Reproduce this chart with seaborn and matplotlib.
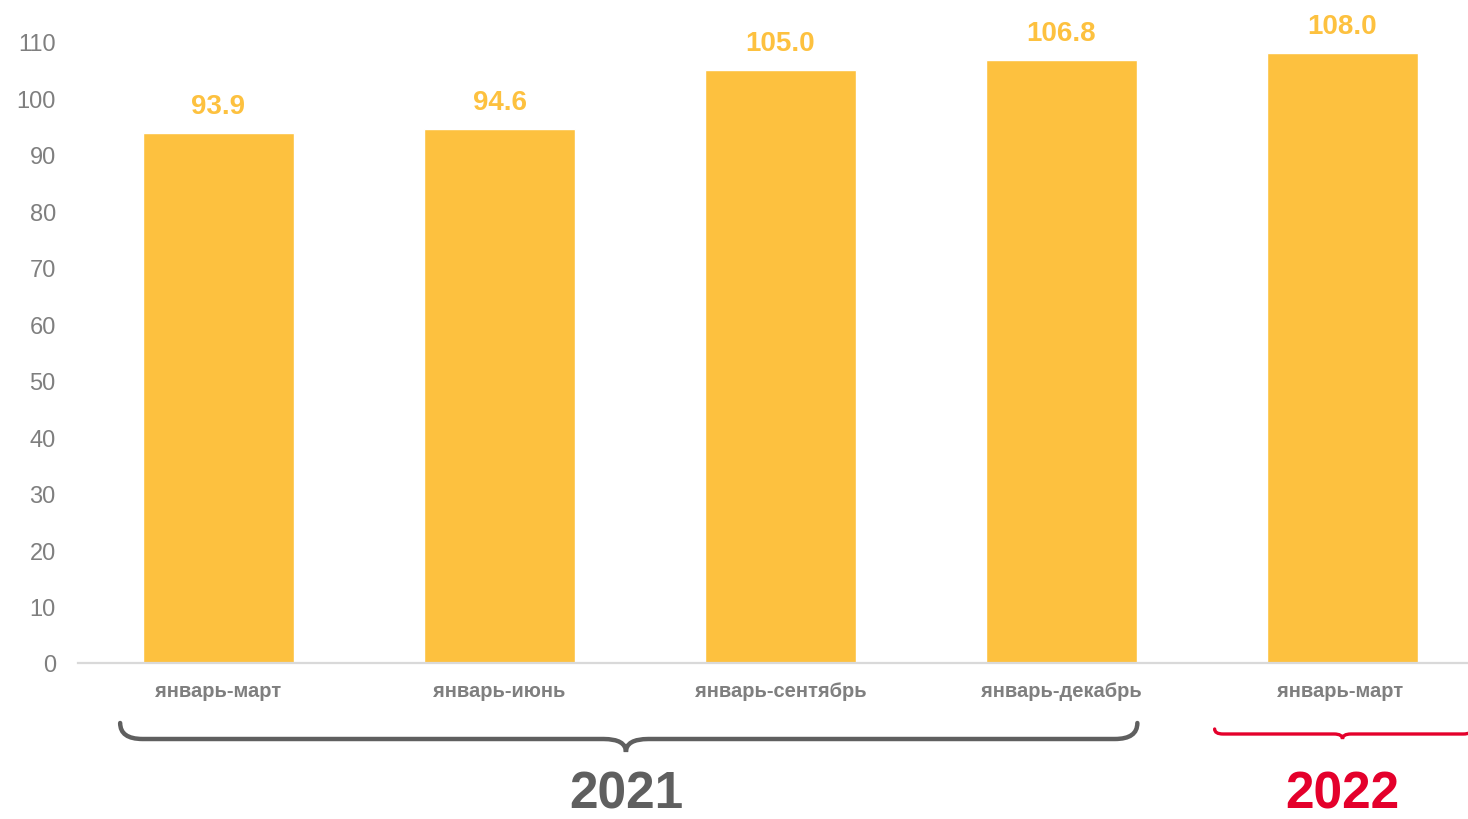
import matplotlib
matplotlib.use("Agg")
import matplotlib.pyplot as plt
import matplotlib.transforms as mtransforms
from matplotlib.path import Path
from matplotlib.patches import PathPatch
import pandas as pd
import seaborn as sns

# data
periods = ["январь-март", "январь-июнь", "январь-сентябрь", "январь-декабрь", "январь-март "]
values = [93.9, 94.6, 105.0, 106.8, 108.0]
yticks = list(range(0, 111, 10))
years = ["2021", "2022"]

bar_color = "#FDC13F"
grey_text = "#7F7F7F"
brace_grey = "#5F5F5F"
red = "#E4002B"

sns.set_style("white")
plt.rcParams['font.family'] = ['Liberation Sans', 'DejaVu Sans']

df = pd.DataFrame({"period": periods, "value": values})

fig = plt.figure(figsize=(14.68, 8.2), dpi=100)
ax = fig.add_axes([78 / 1468, 156 / 820, 1405 / 1468, 664 / 820])

sns.barplot(data=df, x="period", y="value", color=bar_color, width=0.54,
            saturation=1, ax=ax)

ax.bar_label(ax.containers[0], fmt="%.1f", padding=10, color=bar_color,
             fontsize=20, fontweight="bold")

ax.set_xlim(-0.5, 4.5)
ax.set_ylim(0, 117.6)
ax.set_yticks(yticks)
ax.set_xlabel("")
ax.set_ylabel("")
ax.tick_params(axis="y", length=0, pad=16, labelsize=17, labelcolor=grey_text)
ax.tick_params(axis="x", length=0, pad=13, labelsize=14.5, labelcolor=grey_text)
for lbl in ax.get_xticklabels():
    lbl.set_fontweight("bold")

for side in ["top", "right", "left"]:
    ax.spines[side].set_visible(False)
ax.spines["bottom"].set_color("#D9D9D9")
ax.spines["bottom"].set_linewidth(1.6)


# curly braces under the period groups
trans = mtransforms.blended_transform_factory(ax.transData, ax.transAxes)


def ay(px):
    # pixel row -> axes fraction
    return (664 - px) / 664


def brace(x0, x1, xm, y_end, y_line, y_tip, r, color, lw):
    verts = [(x0, ay(y_end)), (x0, ay(y_line)), (x0 + r, ay(y_line)),
             (xm - r, ay(y_line)),
             (xm, ay(y_line)), (xm, ay(y_tip)),
             (xm, ay(y_line)), (xm + r, ay(y_line)),
             (x1 - r, ay(y_line)),
             (x1, ay(y_line)), (x1, ay(y_end))]
    codes = [Path.MOVETO, Path.CURVE3, Path.CURVE3,
             Path.LINETO,
             Path.CURVE3, Path.CURVE3,
             Path.CURVE3, Path.CURVE3,
             Path.LINETO,
             Path.CURVE3, Path.CURVE3]
    patch = PathPatch(Path(verts, codes), facecolor="none", edgecolor=color,
                      lw=lw, transform=trans, clip_on=False, capstyle="round")
    ax.add_patch(patch)


brace(-0.35, 3.27, 1.45, 724, 740, 753, 0.08, brace_grey, 3.2)
brace(3.545, 4.46, 4.0, 730, 735, 740, 0.03, red, 2.4)

ax.text(1.45, ay(795), years[0], transform=trans, ha="center", va="center",
        fontsize=37, fontweight="bold", color=brace_grey)
ax.text(4.0, ay(795), years[1], transform=trans, ha="center", va="center",
        fontsize=37, fontweight="bold", color=red)

fig.savefig("out.png", dpi=100)
